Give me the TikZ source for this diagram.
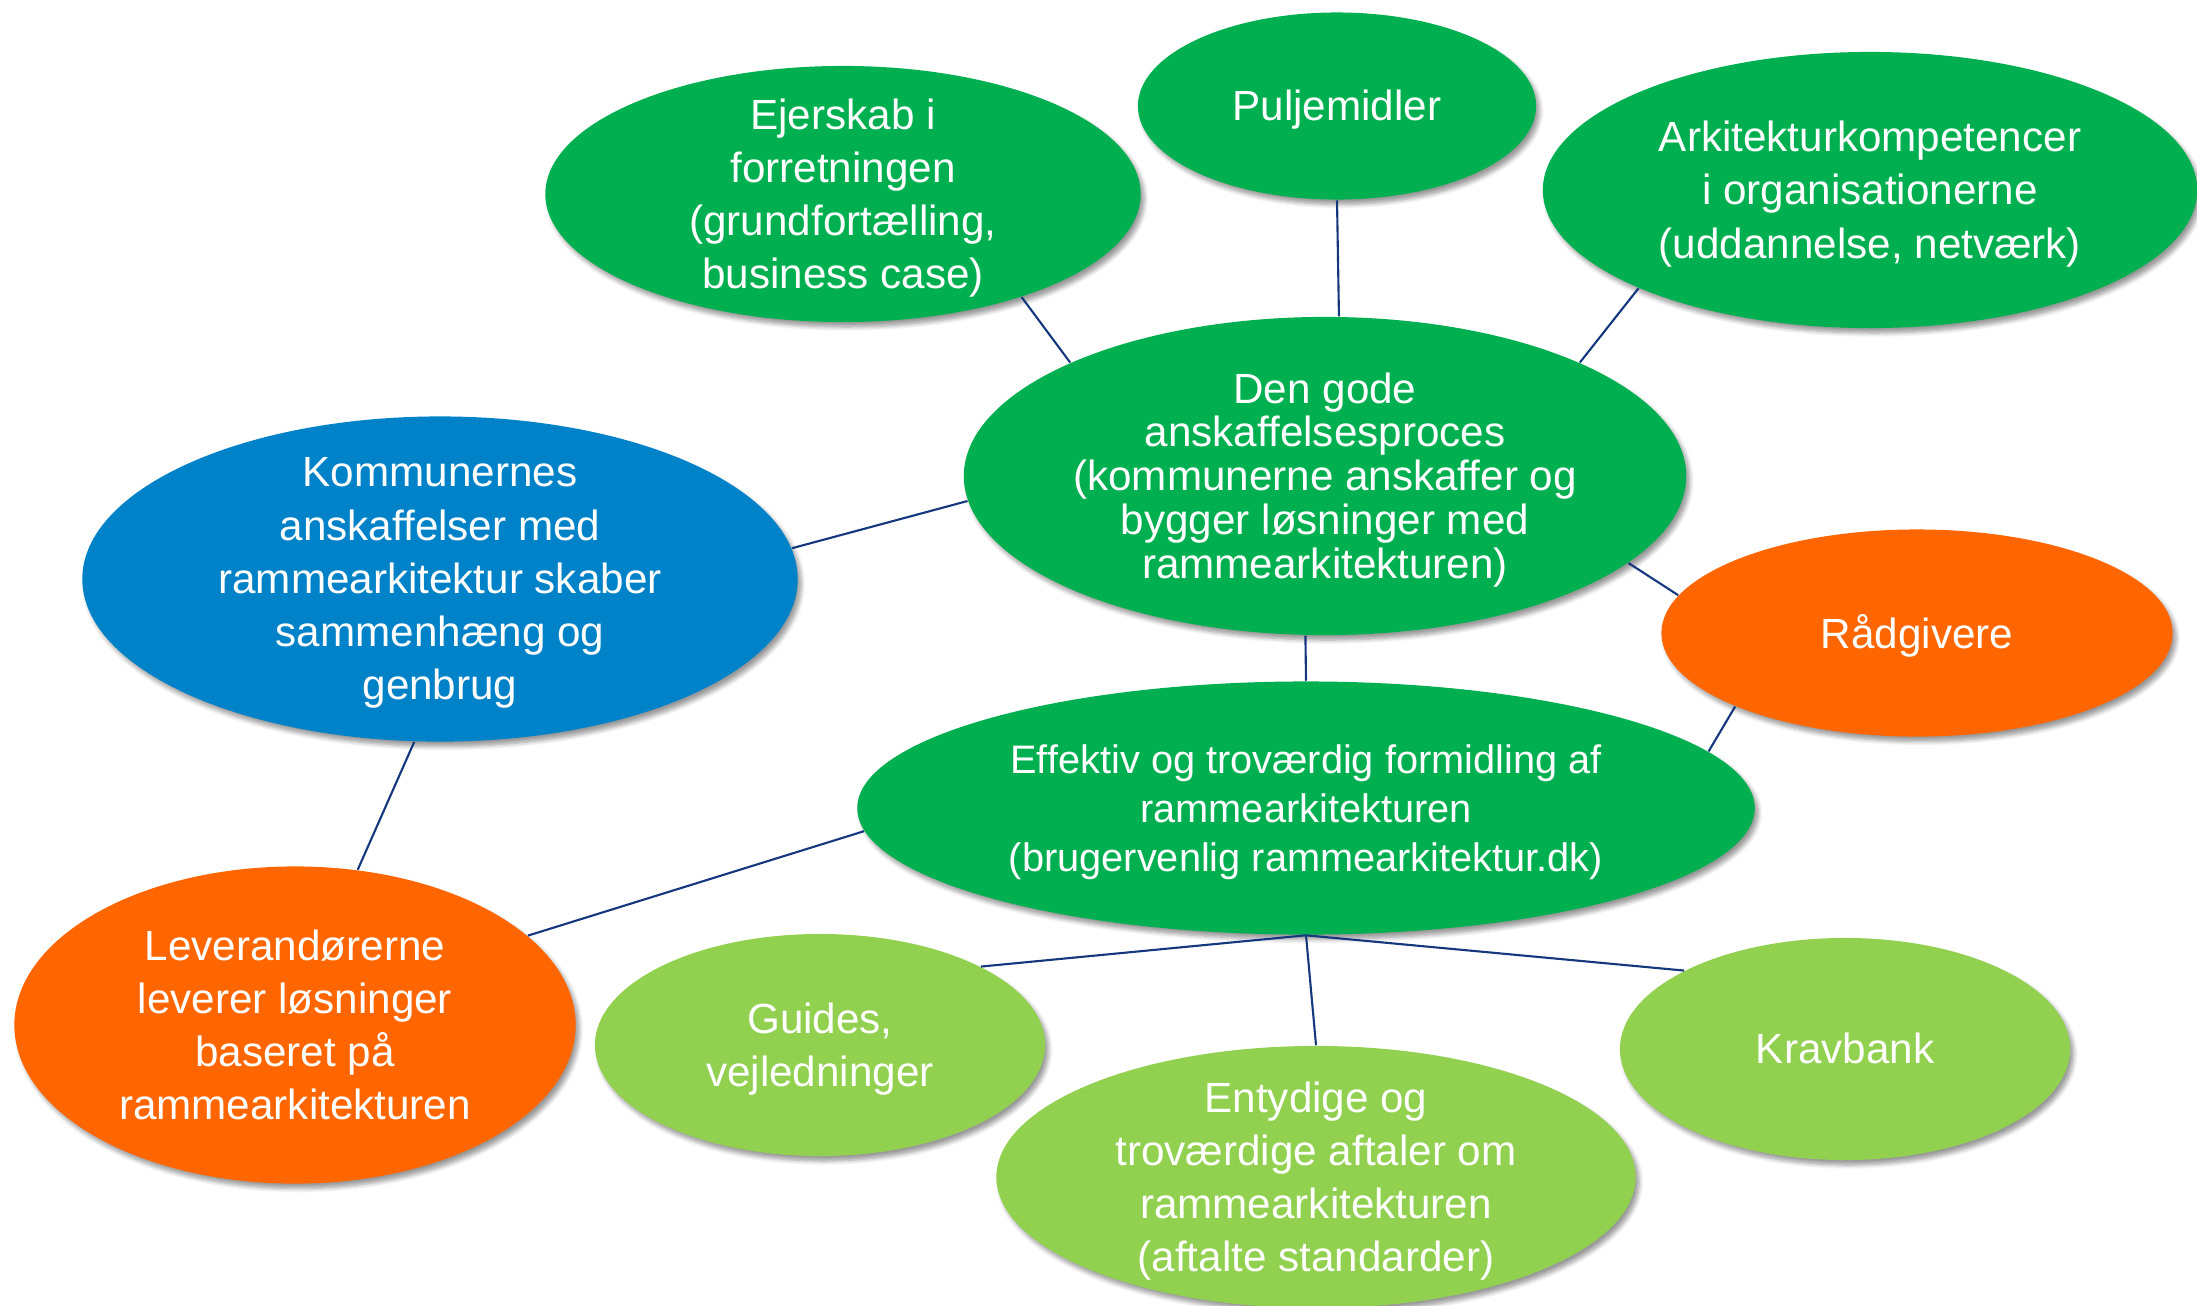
\documentclass[tikz,border=0pt]{standalone}
\usepackage{fontspec}
\setmainfont{Liberation Sans}
\usetikzlibrary{shapes.geometric,shadows.blur}
\definecolor{cgreen}{RGB}{0,176,80}
\definecolor{clight}{RGB}{146,208,80}
\definecolor{cblue}{RGB}{0,130,200}
\definecolor{corange}{RGB}{255,102,0}
\definecolor{cline}{RGB}{20,55,125}
\tikzset{
  bubble/.style={ellipse, inner sep=0pt, draw=none,
    blur shadow={shadow xshift=1pt, shadow yshift=-1.4pt, shadow blur steps=6,
      shadow blur radius=1.2pt, shadow opacity=40}},
  lbl/.style={text=white, align=center, inner sep=0pt, yshift=-0.04cm,
    font=\fontsize{12}{15.1}\selectfont},
  link/.style={draw=cline, line width=0.6pt},
}
\begin{document}
\begin{tikzpicture}[x=0.01cm, y=-0.01cm]
\useasboundingbox (0,0) rectangle (2197,1305);

% bubbles
\node[bubble, fill=cgreen, minimum width=5.95cm, minimum height=2.56cm] (ejer) at (843,194) {};
\node[bubble, fill=cgreen, minimum width=3.98cm, minimum height=1.87cm] (pulje) at (1337,106) {};
\node[bubble, fill=cgreen, minimum width=6.54cm, minimum height=2.76cm] (arki) at (1870,190) {};
\node[bubble, fill=cgreen, minimum width=7.22cm, minimum height=3.18cm] (dengode) at (1325,476) {};
\node[bubble, fill=cblue, minimum width=7.15cm, minimum height=3.25cm] (komm) at (440,579) {};
\node[bubble, fill=corange, minimum width=5.11cm, minimum height=2.07cm] (raad) at (1917,633) {};
\node[bubble, fill=cgreen, minimum width=8.97cm, minimum height=2.53cm] (eff) at (1306,808) {};
\node[bubble, fill=corange, minimum width=5.61cm, minimum height=3.17cm] (lever) at (295,1025) {};
\node[bubble, fill=clight, minimum width=4.50cm, minimum height=2.22cm] (guides) at (820,1045) {};
\node[bubble, fill=clight, minimum width=6.39cm, minimum height=2.62cm] (enty) at (1316,1177) {};
\node[bubble, fill=clight, minimum width=4.50cm, minimum height=2.22cm] (krav) at (1845,1049) {};

% labels
\node[lbl] (ejerT) at (ejer) {Ejerskab i\\forretningen\\(grundfortælling,\\business case)};
\node[lbl] (puljeT) at (pulje) {Puljemidler};
\node[lbl] (arkiT) at (arki) {Arkitekturkompetencer\\i organisationerne\\(uddannelse, netværk)};
\node[lbl, font=\fontsize{12}{12.5}\selectfont] (dengodeT) at (dengode) {Den gode\\anskaffelsesproces\\(kommunerne anskaffer og\\bygger løsninger med\\rammearkitekturen)};
\node[lbl] (kommT) at (komm) {Kommunernes\\anskaffelser med\\rammearkitektur skaber\\sammenhæng og\\genbrug};
\node[lbl, yshift=0.01cm] (raadT) at (raad) {Rådgivere};
\node[lbl, font=\fontsize{11.3}{14}\selectfont] (effT) at (eff) {Effektiv og troværdig formidling af\\rammearkitekturen\\(brugervenlig rammearkitektur.dk)};
\node[lbl, yshift=0.04cm] (leverT) at (lever) {Leverandørerne\\leverer løsninger\\baseret på\\rammearkitekturen};
\node[lbl] (guidesT) at (guides) {Guides,\\vejledninger};
\node[lbl] (entyT) at (enty) {Entydige og\\troværdige aftaler om\\rammearkitekturen\\(aftalte standarder)};
\node[lbl, yshift=0.05cm] (kravT) at (krav) {Kravbank};

% connectors
\draw[link] (ejer.-30) -- (dengode.156);
\draw[link] (pulje.south) -- (dengode.85);
\draw[link] (arki.203) -- (dengode.24);
\draw[link] (komm.5) -- (dengode.184);
\draw[link] (dengode.-16) -- (raad.171);
\draw[link] (dengode.263) -- (eff.north);
\draw[link] (raad.202) -- (eff.8.5);
\draw[link] (komm.261) -- (lever.68);
\draw[link] (lever.21) -- (eff.183);
\draw[link] (eff.south) -- (guides.26);
\draw[link] (eff.south) -- (enty.north);
\draw[link] (eff.south) -- (krav.154);
\end{tikzpicture}
\end{document}
